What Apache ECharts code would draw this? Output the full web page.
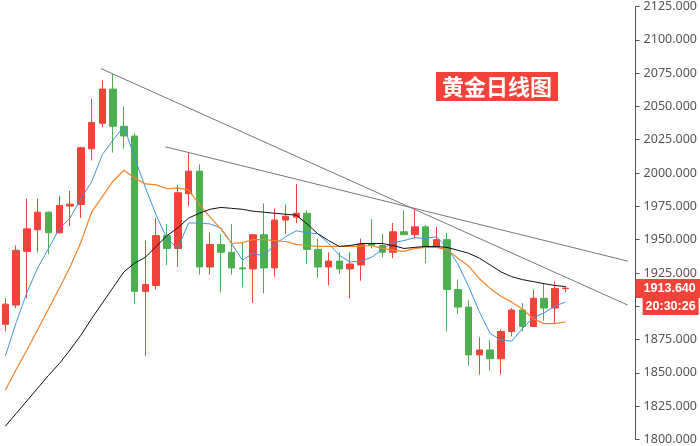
<!DOCTYPE html>
<html>
<head>
<meta charset="utf-8">
<script src="https://cdn.jsdelivr.net/npm/echarts@6/dist/echarts.min.js"></script>
<style>
html,body{margin:0;padding:0;background:#fff;}
#chart{width:700px;height:446px;}
</style>
</head>
<body>
<div id="chart"></div>
<script>
// ---- data ----
var opens  = [1886.5,1900.9,1941.2,1957.4,1970.6,1955.2,1975.2,1976.4,2018.2,2037.3,2063.0,2035.1,2027.8,1911.2,1915.6,1953.0,1943.4,1984.5,2001.4,1929.5,1946.4,1940.5,1928.8,1928.0,1953.7,1928.8,1964.7,1966.9,1969.8,1942.7,1929.5,1933.9,1928.0,1931.0,1947.1,1945.6,1940.5,1955.9,1953.7,1959.6,1944.2,1950.0,1912.6,1899.4,1863.5,1867.2,1860.6,1881.1,1897.2,1884.8,1906.0,1898.7,1913.2];
var closes = [1901.6,1942.0,1958.1,1970.6,1955.2,1975.7,1976.6,2019.0,2038.0,2063.0,2035.1,2027.8,1911.2,1916.3,1953.0,1943.4,1985.2,2001.4,1929.5,1946.4,1940.5,1928.8,1928.0,1953.7,1928.8,1964.7,1967.6,1969.8,1942.7,1929.5,1933.9,1928.0,1931.7,1946.4,1945.6,1940.5,1955.9,1953.7,1959.6,1944.2,1950.0,1912.6,1899.4,1863.5,1867.2,1860.6,1881.1,1897.2,1884.8,1906.0,1898.7,1913.4,1913.64];
var lows   = [1881.1,1898.7,1906.0,1940.5,1939.0,1954.5,1960.3,1966.2,2009.4,2034.4,2015.3,2018.2,1901.6,1862.8,1912.6,1931.0,1929.5,1975.0,1923.6,1923.6,1910.4,1923.6,1914.1,1902.4,1909.7,1922.2,1954.4,1962.5,1931.7,1921.4,1915.6,1924.4,1906.0,1919.2,1943.4,1936.8,1936.1,1953.7,1950.8,1932.4,1944.2,1881.1,1894.3,1855.4,1848.8,1851.8,1848.8,1877.4,1881.1,1884.8,1889.2,1887.0,1910.4];
var highs  = [1906.0,1945.6,1980.8,1980.8,1971.3,1983.0,1986.7,2019.7,2055.6,2069.6,2074.7,2049.8,2030.0,1949.3,1966.2,1961.8,1991.1,2015.3,2006.5,1955.2,1954.4,1961.8,1947.8,1954.4,1977.2,1973.5,1976.4,1991.8,1972.0,1950.8,1940.5,1940.5,1940.5,1950.8,1965.4,1954.4,1962.5,1972.0,1973.5,1961.1,1959.6,1955.2,1920.0,1904.6,1876.7,1874.5,1882.6,1898.7,1902.4,1912.6,1917.0,1918.5,1914.8];

var maFast = [1862.8,1887.7,1910.4,1928.8,1943.4,1958.1,1966.2,1980.8,1993.3,2013.8,2024.8,2035.1,2011.6,1988.9,1968.4,1950.8,1943.4,1962.5,1962.5,1961.8,1958.8,1947.1,1934.6,1939.8,1937.6,1946.4,1952.2,1956.6,1955.2,1954.4,1947.1,1938.3,1933.2,1933.9,1936.8,1942.7,1947.8,1949.3,1951.5,1950.8,1952.2,1944.2,1931.7,1914.8,1895.8,1879.6,1874.5,1873.8,1883.3,1891.4,1895.0,1900.2,1903.1];
var maMid  = [1837.1,1852.5,1867.2,1882.6,1898.0,1913.4,1929.5,1947.8,1970.6,1982.3,1994.0,2002.1,1996.2,1991.8,1991.1,1988.2,1988.9,1987.4,1976.4,1966.9,1958.1,1947.1,1947.8,1950.0,1950.0,1949.3,1948.6,1946.4,1945.6,1944.9,1944.9,1944.9,1944.9,1944.9,1945.6,1943.4,1942.0,1941.2,1943.4,1944.2,1944.2,1942.7,1936.1,1930.2,1920.7,1913.4,1907.5,1903.1,1898.0,1890.6,1887.0,1887.0,1888.4];
var maSlow = [1810.0,1819.5,1829.0,1838.6,1848.1,1856.9,1867.2,1878.2,1890.6,1902.4,1914.1,1925.8,1932.4,1936.8,1944.9,1953.0,1958.8,1966.2,1969.8,1972.8,1974.2,1973.5,1972.8,1971.3,1970.6,1969.8,1969.1,1968.4,1961.8,1954.4,1949.3,1944.9,1945.6,1947.1,1947.1,1947.1,1945.6,1943.4,1944.2,1944.9,1944.9,1944.2,1942.0,1939.8,1936.1,1931.0,1925.8,1922.2,1920.0,1918.5,1917.0,1915.6,1914.8];

// trend lines: [bar index, price]
var trendUpper = [[8.87, 2078.4], [57.77, 1900.9]];
var trendLower = [[14.85, 2019.7], [57.77, 1933.9]];

var lastPrice = 1913.64;
var lastTime = '20:30:26';
var titleText = '黄金日线图';
var slotCount = 59; // candles + empty space on the right
var yMin = 1800, yMax = 2125, yStep = 25;

// ---- build ----
var categories = [];
for (var i = 0; i < slotCount; i++) categories.push(String(i + 1));
var candles = opens.map(function (o, i) { return [o, closes[i], lows[i], highs[i]]; });

var RED = '#f2433a', GREEN = '#4caf50';

var chart = echarts.init(document.getElementById('chart'), null, {renderer: 'canvas'});
chart.setOption({
  animation: false,
  backgroundColor: '#fff',
  title: {
    text: titleText,
    left: 436, top: 72,
    backgroundColor: RED,
    padding: [3, 6],
    textStyle: {color: '#fff', fontSize: 22, fontWeight: 'bold', fontFamily: 'Noto Sans CJK SC', lineHeight: 23}
  },
  grid: {left: -3, right: 61, top: 0.4, bottom: 2.4},
  xAxis: [
    {type: 'category', data: categories, boundaryGap: true, show: false},
    {type: 'value', min: -0.5, max: slotCount - 0.5, show: false}
  ],
  yAxis: {
    type: 'value', position: 'right', min: yMin, max: yMax, interval: yStep,
    splitLine: {show: false},
    axisLine: {show: true, onZero: false, lineStyle: {color: '#555', width: 1}},
    axisTick: {show: true, length: 4, lineStyle: {color: '#555'}},
    axisLabel: {
      color: '#555', fontSize: 12.5, fontFamily: 'Noto Sans', margin: 8,
      showMinLabel: true, showMaxLabel: true,
      formatter: function (v) { return v.toFixed(3); }
    }
  },
  series: [
    {
      type: 'candlestick', data: candles, barWidth: 7,
      itemStyle: {color: RED, color0: GREEN, borderColor: RED, borderColor0: GREEN, borderWidth: 1},
      markLine: {
        silent: true, symbol: ['none', 'none'],
        lineStyle: {color: 'rgba(0,0,0,0)', width: 0, type: 'solid'},
        emphasis: {disabled: true},
        data: [{yAxis: lastPrice}],
        label: {
          show: true, position: 'end', distance: 0, offset: [0, 12],
          formatter: '{p|' + lastPrice.toFixed(3) + '}\n{s|}{t|' + lastTime + '}',
          rich: {
            p: {backgroundColor: RED, color: '#fff', fontWeight: 'bold', fontSize: 12.5, fontFamily: 'Liberation Sans', height: 13, lineHeight: 13, padding: [3, 8, 3, 8]},
            s: {width: 7, height: 23},
            t: {backgroundColor: RED, color: '#fff', fontWeight: 'bold', fontSize: 12.5, fontFamily: 'Liberation Sans', height: 13, lineHeight: 13, padding: [2, 3, 2, 3]}
          }
        }
      }
    },
    {type: 'line', data: maFast, symbol: 'none', smooth: false, lineStyle: {color: '#3d95e0', width: 1}, z: 3},
    {type: 'line', data: maMid, symbol: 'none', smooth: false, lineStyle: {color: '#f4832a', width: 1.2}, z: 3},
    {type: 'line', data: maSlow, symbol: 'none', smooth: false, lineStyle: {color: '#111', width: 1}, z: 3},
    {type: 'line', xAxisIndex: 1, data: trendUpper, symbol: 'none', lineStyle: {color: '#777', width: 1}, z: 4},
    {type: 'line', xAxisIndex: 1, data: trendLower, symbol: 'none', lineStyle: {color: '#777', width: 1}, z: 4}
  ]
});
</script>
</body>
</html>
